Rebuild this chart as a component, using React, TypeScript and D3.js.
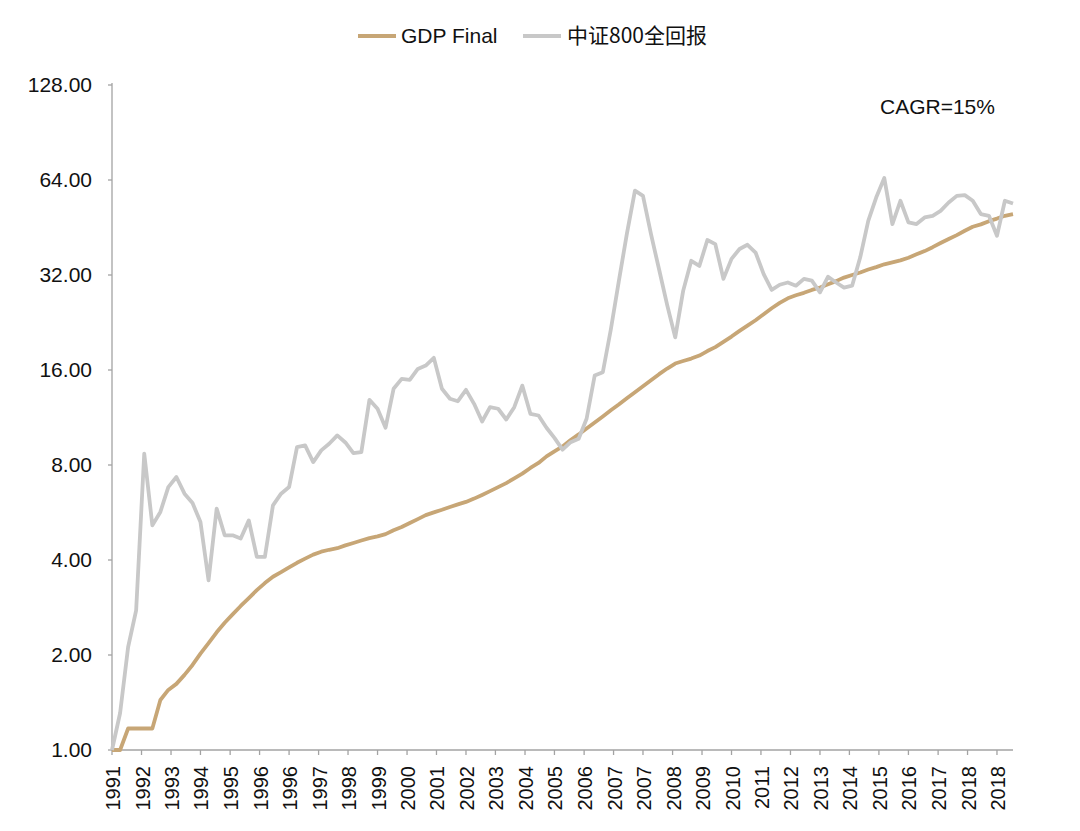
import React from "react";
import * as d3 from "d3";

const W = 1080;
const H = 831;

// quarterly observation dates (Jun 1991 .. Jun 2019)
const quarterDates: Date[] = d3.timeMonth.range(new Date(1991, 5, 1), new Date(2019, 6, 1), 3);

const gdpFinal = [
  1.00, 1.00, 1.17, 1.17, 1.17, 1.17, 1.44, 1.55, 1.62, 1.73,
  1.86, 2.02, 2.18, 2.36, 2.53, 2.69, 2.86, 3.03, 3.21, 3.38,
  3.54, 3.66, 3.79, 3.92, 4.04, 4.16, 4.25, 4.31, 4.36, 4.45,
  4.53, 4.61, 4.69, 4.75, 4.83, 4.97, 5.09, 5.24, 5.39, 5.55,
  5.66, 5.77, 5.89, 6.00, 6.11, 6.26, 6.43, 6.61, 6.81, 7.01,
  7.26, 7.51, 7.83, 8.12, 8.52, 8.84, 9.16, 9.60, 10.0, 10.44,
  10.91, 11.40, 11.93, 12.44, 13.02, 13.61, 14.21, 14.85, 15.52, 16.17,
  16.77, 17.08, 17.39, 17.78, 18.37, 18.91, 19.64, 20.42, 21.28, 22.11,
  23.0, 24.05, 25.1, 26.1, 27.0, 27.6, 28.1, 28.7, 29.2, 29.9,
  30.6, 31.4, 32.0, 32.6, 33.3, 33.9, 34.6, 35.1, 35.6, 36.3,
  37.2, 38.1, 39.2, 40.4, 41.6, 42.8, 44.2, 45.5, 46.3, 47.4,
  48.3, 49.3, 49.9,
];

const csi800TotalReturn = [
  1.00, 1.31, 2.12, 2.77, 8.69, 5.15, 5.68, 6.81, 7.33, 6.49,
  6.06, 5.28, 3.45, 5.82, 4.79, 4.79, 4.68, 5.34, 4.09, 4.09,
  5.96, 6.49, 6.81, 9.11, 9.23, 8.17, 8.90, 9.34, 9.93, 9.43,
  8.72, 8.79, 12.87, 12.06, 10.50, 13.95, 15.00, 14.89, 16.13, 16.53,
  17.48, 13.95, 12.97, 12.74, 13.84, 12.50, 10.99, 12.20, 12.06, 11.15,
  12.20, 14.28, 11.62, 11.48, 10.50, 9.75, 8.95, 9.45, 9.69, 11.21,
  15.37, 15.74, 21.5, 30.5, 43.2, 59.2, 57.0, 43.1, 33.3, 25.7,
  20.3, 28.5, 35.5, 34.2, 41.3, 40.1, 31.1, 36.0, 38.7, 39.9,
  37.7, 32.2, 28.7, 29.8, 30.3, 29.6, 31.1, 30.7, 28.2, 31.6,
  30.3, 29.2, 29.6, 36.4, 47.5, 56.3, 64.9, 46.4, 55.0, 47.0,
  46.4, 48.7, 49.3, 51.1, 54.3, 57.0, 57.3, 55.0, 49.9, 49.3,
  42.6, 55.0, 53.9,
];

const yTickValues = [1, 2, 4, 8, 16, 32, 64, 128];

const xTickLabels = [
  "1991", "1992", "1993", "1994", "1995", "1996", "1996", "1997", "1998", "1999",
  "2000", "2001", "2002", "2003", "2004", "2005", "2006", "2007", "2007", "2008",
  "2009", "2010", "2011", "2012", "2013", "2014", "2015", "2016", "2017", "2018", "2018",
];
// axis major unit: 11 months starting at the first observation
const xTickDates: Date[] = d3.timeMonth.range(new Date(1991, 5, 1), new Date(2019, 0, 1), 11);

const seriesNames = ["GDP Final", "中证800全回报"];
const seriesColors = ["#C7A676", "#C8C8C8"];
const annotation = "CAGR=15%";

const FONT = "'Liberation Sans', Arial, Helvetica, sans-serif";
const CJK = "'Noto Sans CJK SC', 'Liberation Sans', sans-serif";

export default function App() {
  const left = 112;
  const right = 1013;
  const top = 85;
  const bottom = 750;

  const x = d3
    .scaleTime()
    .domain([quarterDates[0], quarterDates[quarterDates.length - 1]])
    .range([left, right]);
  const y = d3.scaleLog().base(2).domain([1, 128]).range([bottom, top]);

  const line = d3
    .line<number>()
    .x((_, i) => x(quarterDates[i]))
    .y((d) => y(d));

  const axisColor = "#A3A3A3";
  const sw = 3.8;

  return (
    <svg
      width={W}
      height={H}
      style={{ position: "absolute", left: 0, top: 0, background: "#fff" }}
    >
      {/* legend */}
      <g>
        <line x1={358} x2={396} y1={36} y2={36} stroke={seriesColors[0]} strokeWidth={sw} />
        <text x={401} y={36} dy="0.35em" fontFamily={FONT} fontSize={21} fill="#111">
          {seriesNames[0]}
        </text>
        <line x1={523} x2={561} y1={36} y2={36} stroke={seriesColors[1]} strokeWidth={sw} />
        <text x={567} y={36} dy="0.35em" fontFamily={CJK} fontSize={21} fill="#111">
          {seriesNames[1]}
        </text>
      </g>

      {/* y axis */}
      <line x1={left} x2={left} y1={top - 2} y2={bottom} stroke={axisColor} strokeWidth={1.3} />
      {yTickValues.map((v) => (
        <g key={v}>
          <line x1={left - 4} x2={left} y1={y(v)} y2={y(v)} stroke={axisColor} strokeWidth={1.3} />
          <text
            x={92}
            y={y(v)}
            dy="0.35em"
            textAnchor="end"
            fontFamily={FONT}
            fontSize={21}
            fill="#111"
          >
            {v.toFixed(2)}
          </text>
        </g>
      ))}

      {/* x axis */}
      <line x1={left} x2={right} y1={bottom} y2={bottom} stroke={axisColor} strokeWidth={1.3} />
      {xTickDates.map((d, i) => (
        <g key={i}>
          <line x1={x(d)} x2={x(d)} y1={bottom} y2={bottom + 5} stroke={axisColor} strokeWidth={1.3} />
          <text
            transform={`translate(${x(d) + 1},${766}) rotate(-90)`}
            dy="0.35em"
            textAnchor="end"
            fontFamily={FONT}
            fontSize={20}
            fill="#111"
          >
            {xTickLabels[i]}
          </text>
        </g>
      ))}

      {/* series */}
      <path d={line(gdpFinal) || ""} fill="none" stroke={seriesColors[0]} strokeWidth={sw} strokeLinejoin="round" />
      <path
        d={line(csi800TotalReturn) || ""}
        fill="none"
        stroke={seriesColors[1]}
        strokeWidth={sw}
        strokeLinejoin="round"
      />

      {/* annotation */}
      <text x={880} y={107} dy="0.35em" fontFamily={FONT} fontSize={21} fill="#111">
        {annotation}
      </text>
    </svg>
  );
}
